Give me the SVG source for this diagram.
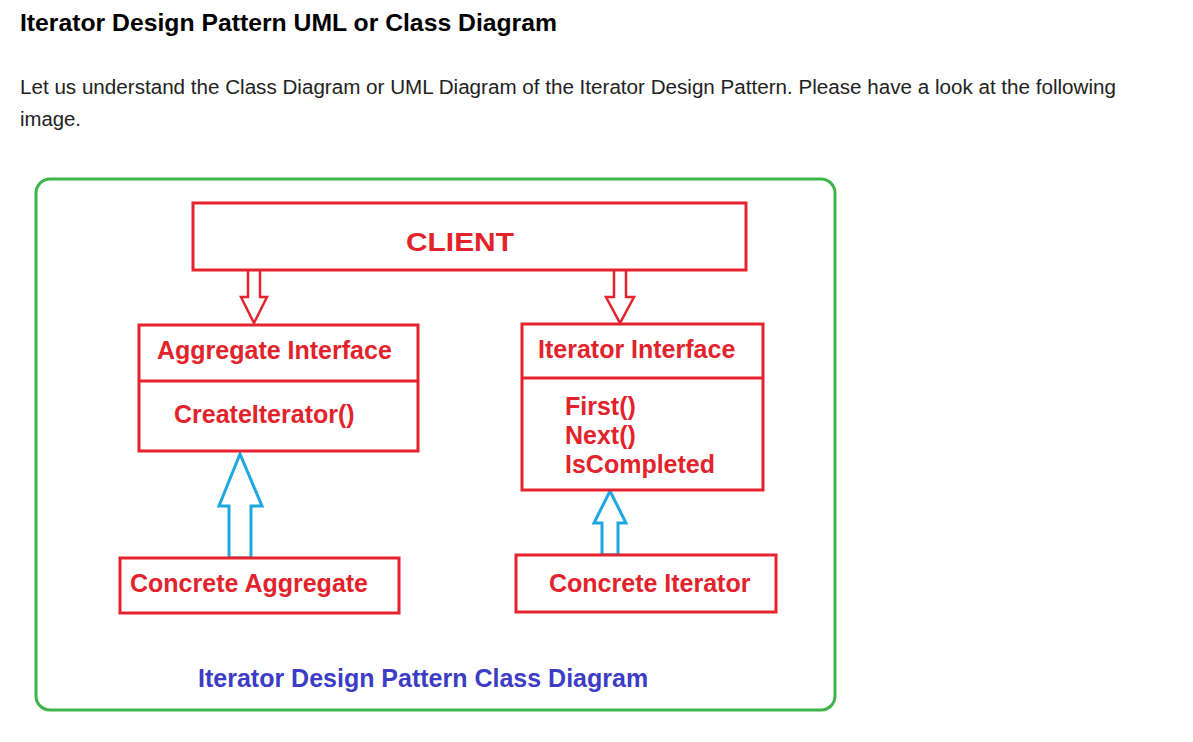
<svg xmlns="http://www.w3.org/2000/svg" width="1193" height="742" viewBox="0 0 1193 742">
<style>
.box{fill:#fff;stroke:#e5232d;stroke-width:3}
.div{stroke:#e5232d;stroke-width:3}
.t{font-family:"Liberation Sans",Arial,sans-serif;font-weight:bold;fill:#e3232c;font-size:25px}
.ra{fill:#fff;stroke:#e5232d;stroke-width:2.5;stroke-linejoin:miter}
.ba{fill:#fff;stroke:#1ea7e0;stroke-width:3;stroke-linejoin:miter}
</style>
<rect width="1193" height="742" fill="#fff"/>
<text x="20" y="31" font-family="Liberation Sans,Arial,sans-serif" font-weight="bold" font-size="24.5" fill="#000" textLength="537" lengthAdjust="spacingAndGlyphs">Iterator Design Pattern UML or Class Diagram</text>
<text x="20" y="94" font-family="Liberation Sans,Arial,sans-serif" font-size="19.5" fill="#222" textLength="1096" lengthAdjust="spacingAndGlyphs">Let us understand the Class Diagram or UML Diagram of the Iterator Design Pattern. Please have a look at the following</text>
<text x="20" y="126" font-family="Liberation Sans,Arial,sans-serif" font-size="19.5" fill="#222" textLength="61" lengthAdjust="spacingAndGlyphs">image.</text>
<rect id="frame" x="36" y="179" width="799" height="531" rx="14" fill="#fff" stroke="#3db54a" stroke-width="3"/>
<g id="connectors">
<path class="ra" d="M248,271 V297 H241 L254,323 L267,297 H260 V271"/>
<path class="ra" d="M614,271 V297 H606 L620,323 L634,297 H626 V271"/>
<path class="ba" d="M229,558 V506 H219 L240,454 L262,506 H251 V558 Z"/>
<path class="ba" d="M602,555 V523 H594 L610,491 L626,523 H618 V555 Z"/>
</g>
<g id="client">
<rect class="box" x="193" y="203" width="553" height="67"/>
<text class="t" x="406" y="251" font-size="33" textLength="108" lengthAdjust="spacingAndGlyphs">CLIENT</text>
</g>
<g id="aggregate-interface">
<rect class="box" x="139" y="325" width="279" height="126"/>
<line class="div" x1="139" y1="381" x2="418" y2="381"/>
<text class="t" x="157" y="359">Aggregate Interface</text>
<text class="t" x="174" y="423">CreateIterator()</text>
</g>
<g id="iterator-interface">
<rect class="box" x="522" y="324" width="241" height="166"/>
<line class="div" x1="522" y1="378" x2="763" y2="378"/>
<text class="t" x="538" y="358">Iterator Interface</text>
<text class="t" x="565" y="415">First()</text>
<text class="t" x="565" y="444">Next()</text>
<text class="t" x="565" y="473">IsCompleted</text>
</g>
<g id="concrete-aggregate">
<rect class="box" x="120" y="558" width="279" height="55"/>
<text class="t" x="130" y="592">Concrete Aggregate</text>
</g>
<g id="concrete-iterator">
<rect class="box" x="516" y="555" width="260" height="57"/>
<text class="t" x="549" y="592">Concrete Iterator</text>
</g>
<text id="caption" x="198" y="687" font-family="Liberation Sans,Arial,sans-serif" font-weight="bold" font-size="25" fill="#3c3cc4">Iterator Design Pattern Class Diagram</text>
</svg>
